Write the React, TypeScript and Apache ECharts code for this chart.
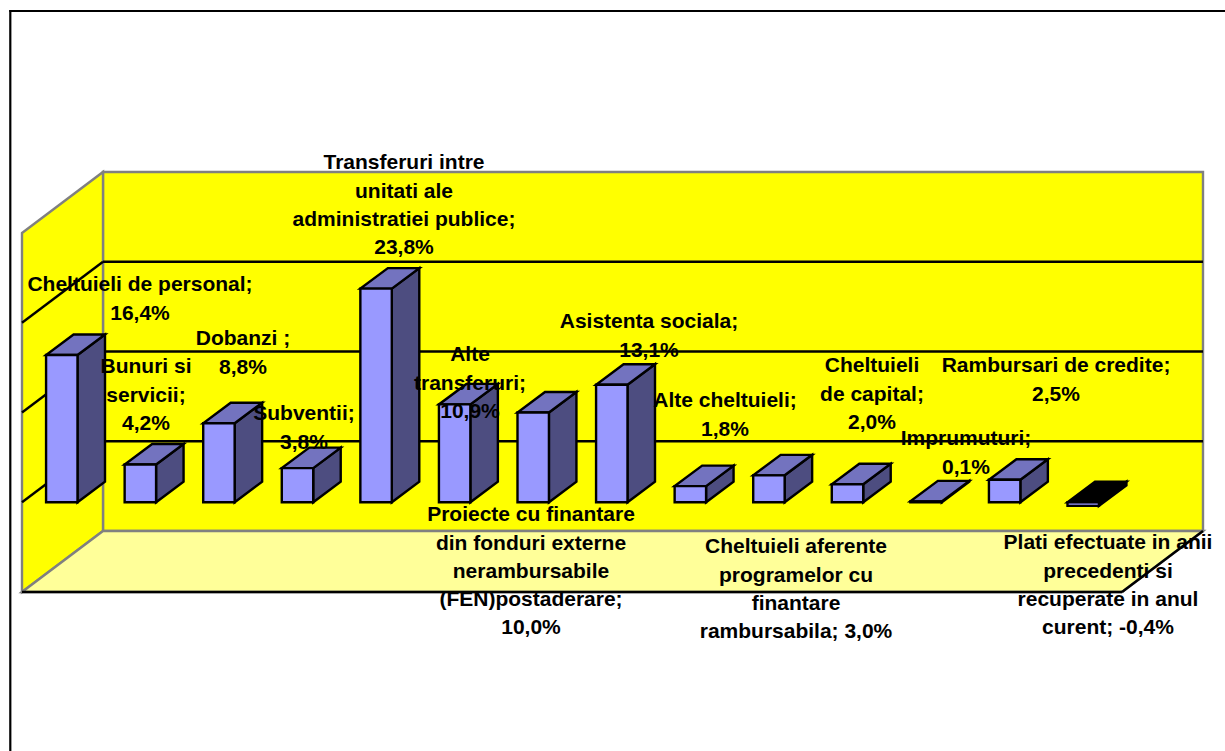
import React, { useEffect, useRef } from "react";
import * as echarts from "echarts";

const categories = [
  "Cheltuieli de personal",
  "Bunuri si servicii",
  "Dobanzi",
  "Subventii",
  "Transferuri intre unitati ale administratiei publice",
  "Alte transferuri",
  "Proiecte cu finantare din fonduri externe nerambursabile (FEN)postaderare",
  "Asistenta sociala",
  "Alte cheltuieli",
  "Cheltuieli aferente programelor cu finantare rambursabila",
  "Cheltuieli de capital",
  "Imprumuturi",
  "Rambursari de credite",
  "Plati efectuate in anii precedenti si recuperate in anul curent",
];
const values = [16.4, 4.2, 8.8, 3.8, 23.8, 10.9, 10.0, 13.1, 1.8, 3.0, 2.0, 0.1, 2.5, -0.4];
const gridValues = [0, 10, 20];
const labelLines = [
  ["Cheltuieli de personal;", "16,4%"],
  ["Bunuri si", "servicii;", "4,2%"],
  ["Dobanzi ;", "8,8%"],
  ["Subventii;", "3,8%"],
  ["Transferuri intre", "unitati ale", "administratiei publice;", "23,8%"],
  ["Alte", "transferuri;", "10,9%"],
  ["Proiecte cu finantare", "din fonduri externe", "nerambursabile", "(FEN)postaderare;", "10,0%"],
  ["Asistenta sociala;", "13,1%"],
  ["Alte cheltuieli;", "1,8%"],
  ["Cheltuieli aferente", "programelor cu", "finantare", "rambursabila; 3,0%"],
  ["Cheltuieli", "de capital;", "2,0%"],
  ["Imprumuturi;", "0,1%"],
  ["Rambursari de credite;", "2,5%"],
  ["Plati efectuate in anii", "precedenti si", "recuperate in anul", "curent; -0,4%"],
];
// centre x and first-line centre y of each hand-placed data label
const labelPlacement: [number, number][] = [
  [140, 284], [146, 366], [243, 338], [304, 413], [404, 162], [470, 354], [531, 514],
  [649, 321], [725, 400], [796, 546], [872, 365], [966, 438], [1056, 365], [1108, 542],
];

const WALL_DX = 81;
const WALL_DY = -61;
const BAR_DX = 27.5;
const BAR_DY = -20.5;
const BAR_RATIO = 0.4;
const FONT = "'Liberation Sans', Arial, sans-serif";
const LINE = 28.2;
const STROKE = 2.4;

const poly = (points: number[][], fill: string, stroke: string, lineWidth = STROKE) => ({
  type: "polygon",
  shape: { points },
  style: { fill, stroke, lineWidth, lineJoin: "miter" },
});
const seg = (a: number[], b: number[], stroke: string, lineWidth = STROKE) => ({
  type: "line",
  shape: { x1: a[0], y1: a[1], x2: b[0], y2: b[1] },
  style: { stroke, lineWidth, fill: "none" },
});

const renderWalls = (params: any, api: any) => {
  const c = params.coordSys;
  const l = c.x;
  const r = c.x + c.width;
  const t = c.y;
  const b = c.y + c.height;
  const gray = "#808080";
  const children: any[] = [
    poly([[l + WALL_DX, t + WALL_DY], [r + WALL_DX, t + WALL_DY], [r + WALL_DX, b + WALL_DY], [l + WALL_DX, b + WALL_DY]], "#ffff00", gray),
    poly([[l, t], [l + WALL_DX, t + WALL_DY], [l + WALL_DX, b + WALL_DY], [l, b]], "#ffff00", gray),
    poly([[l, b], [l + WALL_DX, b + WALL_DY], [r + WALL_DX, b + WALL_DY], [r, b]], "#ffff99", gray),
    seg([l, b], [r, b], "#000000"),
    seg([r, b], [r + WALL_DX, b + WALL_DY], "#000000"),
  ];
  gridValues.forEach((v) => {
    const y = api.coord([0, v])[1];
    children.push(seg([l + WALL_DX, y + WALL_DY], [r + WALL_DX, y + WALL_DY], "#000000"));
    children.push(seg([l, y], [l + WALL_DX, y + WALL_DY], "#000000"));
  });
  return { type: "group", children };
};

const renderBar = (_params: any, api: any) => {
  const value = api.value(1);
  const [cx, y1] = api.coord([api.value(0), value]);
  const y0 = api.coord([api.value(0), 0])[1];
  const w = api.size([1, 0])[0] * BAR_RATIO;
  const x0 = cx - w / 2 + 0.5;
  const x1 = cx + w / 2 + 0.5;
  const top = Math.min(y0, y1);
  const bot = Math.max(y0, y1);
  const neg = value < 0;
  return {
    type: "group",
    children: [
      poly([[x1, top], [x1 + BAR_DX, top + BAR_DY], [x1 + BAR_DX, bot + BAR_DY], [x1, bot]], neg ? "#000000" : "#4d4d80", "#000000"),
      poly([[x0, top], [x1, top], [x1 + BAR_DX, top + BAR_DY], [x0 + BAR_DX, top + BAR_DY]], neg ? "#000000" : "#7373bf", "#000000"),
      poly([[x0, top], [x1, top], [x1, bot], [x0, bot]], "#9999ff", "#000000"),
    ],
  };
};

export default function App() {
  const ref = useRef<HTMLDivElement>(null);
  useEffect(() => {
    document.body.style.margin = "0";
    const chart = echarts.init(ref.current!, undefined, { renderer: "svg" });
    chart.setOption({
      animation: false,
      backgroundColor: "#ffffff",
      grid: { left: 22, top: 233, width: 1100, height: 359 },
      xAxis: { type: "category", data: categories, show: false },
      yAxis: { type: "value", min: -10, max: 30, interval: 10, show: false },
      series: [
        { type: "custom", z: 1, clip: false, silent: true, renderItem: renderWalls, data: [[0, 0]], encode: { x: 0, y: 1 } },
        {
          type: "custom",
          z: 2,
          clip: false,
          renderItem: renderBar,
          data: values.map((v, i) => [i, v]),
          encode: { x: 0, y: 1 },
        },
      ],
      graphic: [
        { type: "line", z: 50, shape: { x1: 10.3, y1: 10, x2: 10.3, y2: 751 }, style: { stroke: "#000", lineWidth: 2.2 } },
        { type: "line", z: 50, shape: { x1: 9.3, y1: 11, x2: 1225, y2: 11 }, style: { stroke: "#000", lineWidth: 2.2 } },
        ...labelLines.map((lines, i) => ({
          type: "text",
          z: 100,
          x: labelPlacement[i][0],
          y: labelPlacement[i][1] - LINE / 2,
          style: {
            text: lines.join("\n"),
            align: "center",
            verticalAlign: "top",
            lineHeight: LINE,
            fill: "#000000",
            fontFamily: FONT,
            fontWeight: "bold",
            fontSize: 21,
          },
        })),
      ],
    });
    return () => chart.dispose();
  }, []);
  return <div ref={ref} style={{ width: 1225, height: 751 }} />;
}
